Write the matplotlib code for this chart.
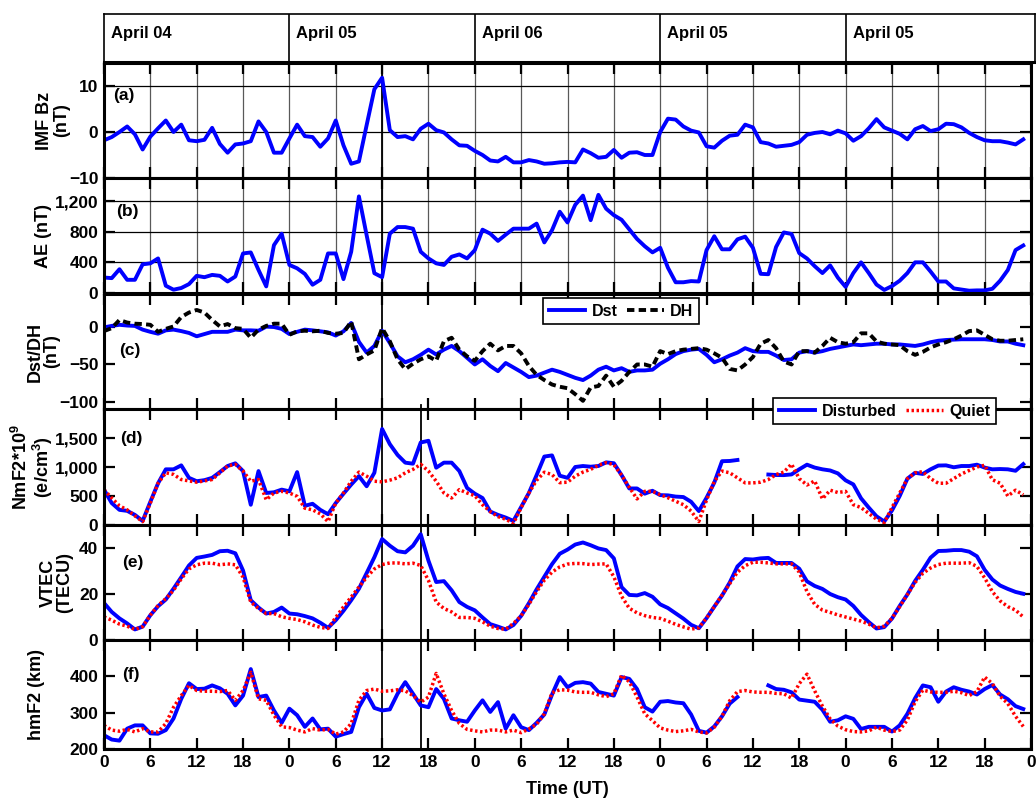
import numpy as np
import matplotlib
matplotlib.use('Agg')
import matplotlib.pyplot as plt
from matplotlib import font_manager as fm
from matplotlib.ticker import FuncFormatter

# ---- data (hourly, 0..119 UT hours from start of April 04) ----
hours = np.arange(120)
day_labels = ['April 04', 'April 05', 'April 06', 'April 05', 'April 05']
event_hours = [36, 41]

imf_bz = [-1.8, -1.1, 0.0, 1.2, -0.5, -3.8, -1.0, 0.8, 2.5, 0.0,
          1.6, -1.8, -2.0, -1.7, 0.9, -2.6, -4.5, -2.7, -2.5, -2.0,
          2.3, 0.0, -4.5, -4.5, -1.4, 1.6, -0.9, -1.1, -3.2, -1.4,
          2.5, -2.9, -6.9, -6.4, 1.5, 9.3, 11.8, 0.4, -1.1, -0.9,
          -1.6, 0.7, 1.8, 0.4, -0.1, -1.6, -2.9, -3.0, -4.1, -5.0,
          -6.2, -6.4, -5.4, -6.6, -6.6, -6.1, -6.4, -6.9, -6.8, -6.6,
          -6.5, -6.6, -3.8, -4.6, -5.6, -5.4, -3.9, -5.6, -4.5, -4.4,
          -5.0, -5.0, 0.0, 2.9, 2.7, 1.2, 0.3, -0.1, -3.1, -3.4,
          -1.9, -0.8, -0.6, 1.6, 1.0, -2.2, -2.5, -3.2, -3.0, -2.8,
          -2.2, -0.6, -0.2, 0.0, -0.5, 0.3, -0.3, -1.9, -0.9, 0.8,
          2.8, 1.0, 0.3, -0.4, -1.6, 0.6, 1.3, 0.2, 0.6, 1.8,
          1.7, 1.0, -0.2, -1.1, -1.8, -2.0, -2.0, -2.3, -2.7, -1.6]

ae = [202, 194, 310, 172, 172, 374, 387, 451, 95, 43,
      65, 116, 224, 206, 236, 224, 150, 215, 516, 529,
      301, 86, 624, 774, 366, 322, 249, 108, 172, 516,
      516, 181, 538, 1260, 753, 258, 206, 774, 860, 860,
      839, 538, 451, 387, 366, 473, 503, 451, 559, 826,
      774, 680, 761, 839, 839, 839, 905, 660, 820, 1060,
      920, 1150, 1270, 950, 1280, 1100, 1015, 955, 830, 705,
      610, 530, 590, 330, 140, 140, 155, 150, 560, 740,
      570, 570, 700, 735, 590, 250, 245, 600, 790, 770,
      520, 450, 350, 260, 360, 200, 80, 260, 400, 260,
      110, 40, 90, 160, 260, 400, 400, 280, 150, 150,
      60, 45, 30, 34, 34, 55, 160, 300, 560, 620]

dst = [0, 2, 3.5, 2.5, 2, -3, -6, -8.5, -4, -3,
       -5, -7.5, -12, -9, -6, -6, -6, -3, -4, -4,
       -4.5, 1, 0.5, -2, -9, -6, -3, -4, -5.3, -6.7,
       -11, -5.3, 6, -19.5, -34, -25, -4.5, -21, -39, -47,
       -43, -37, -30, -36.5, -30, -25, -32, -41, -50, -43,
       -52, -59, -48, -54, -60, -67, -65, -61, -57, -60,
       -64, -68, -71, -65, -57, -53, -58, -55, -60, -58,
       -58, -57, -49, -43, -36, -32, -30, -29, -37, -47,
       -43, -38, -34, -28, -32, -33, -33, -38, -44, -43,
       -34, -32, -34, -32, -29, -27, -25, -23, -24, -23,
       -22, -22, -23, -23, -24, -25, -23, -20, -18, -17,
       -16.5, -16, -16, -16, -16, -17, -19, -19, -22, -24]

dh = [-5, -1, 10, 6.5, 5, 4.5, 3.5, -6, -2, 1.3,
      14, 20, 23.5, 20, 10, 1.3, 4.5, -1, -2, -14,
      -3, 2, 5, 5, -10, -5.3, -4.5, -5.3, -4.5, -7.5,
      -8.5, -7.5, 8, -43, -36.5, -31, -1, -18.7, -43, -56.4,
      -49, -43, -39, -45, -18.7, -14, -30, -39, -45, -32,
      -22, -31, -25, -25, -35, -52, -64, -71, -77, -80,
      -82, -90, -99, -81, -79, -65, -80, -72, -60, -50,
      -50, -53, -32, -36, -32, -30, -29, -28, -30, -35,
      -41, -56, -58, -50, -40, -22, -17, -28, -46, -50,
      -32, -32, -34, -25, -14, -20, -22, -20, -8, -8,
      -19, -22, -23, -24, -32, -37, -33, -27, -23, -20,
      -16, -11, -5, -4, -10, -16, -18, -18, -17, -16]

nan = np.nan
nmf2_dist = [610, 378, 261, 244, 174, 70, 400, 720, 960, 960,
             1028, 813, 755, 773, 813, 912, 1017, 1063, 930, 349,
             930, 552, 564, 610, 581, 912, 331, 366, 261, 186,
             378, 540, 697, 842, 668, 901, 1656, 1394, 1208, 1075,
             1057, 1423, 1452, 988, 1075, 1075, 930, 639, 540, 465,
             232, 174, 128, 70, 310, 552, 860, 1180, 1200, 850,
             813, 1000, 1017, 1005, 1017, 1080, 1065, 860, 630, 630,
             540, 590, 515, 511, 490, 482, 400, 240, 470, 730,
             1100, 1104, 1121, nan, nan, nan, 870, 862, 860, 872,
             960, 1040, 990, 960, 940, 890, 770, 700, 460, 300,
             150, 60, 250, 500, 800, 900, 880, 960, 1025, 1028,
             995, 1017, 1017, 1040, 990, 960, 965, 960, 935, 1050]

nmf2_quiet = [610, 465, 331, 261, 157, 58, 380, 720, 900, 872,
              784, 760, 738, 760, 784, 900, 1017, 1046, 930, 755,
              784, 435, 552, 581, 552, 494, 290, 261, 192, 58,
              378, 552, 755, 912, 842, 755, 744, 773, 813, 900,
              959, 1046, 930, 755, 552, 465, 610, 552, 505, 349,
              232, 145, 99, 29, 300, 552, 770, 910, 870, 730,
              738, 842, 912, 959, 1030, 1075, 1040, 860, 650, 450,
              580, 581, 523, 470, 410, 350, 240, 60, 430, 750,
              930, 900, 813, 726, 726, 738, 784, 870, 912, 1050,
              800, 690, 760, 450, 600, 560, 580, 350, 300, 200,
              100, 40, 300, 550, 800, 900, 920, 800, 720, 720,
              800, 880, 940, 1000, 1030, 780, 720, 500, 600, 520]

vtec_dist = [16.1, 12.2, 9.4, 7.2, 4.6, 5.8, 10.8, 14.7, 17.6, 22.3,
             27.3, 32.4, 35.7, 36.3, 37.0, 38.6, 38.8, 37.7, 30.2, 17.3,
             14.1, 11.5, 12.2, 14.1, 11.5, 11.2, 10.4, 9.4, 7.5, 5.3,
             8.6, 12.7, 17.3, 22.3, 29.1, 36.0, 43.9, 41.0, 38.6, 38.1,
             41.0, 46.0, 34.5, 25.2, 25.6, 21.6, 16.5, 14.4, 12.9, 9.8,
             6.9, 5.8, 4.6, 6.5, 10.5, 16.0, 22.0, 27.5, 33.0, 37.5,
             39.3, 41.5, 42.4, 41.2, 39.8, 39.1, 35.5, 23.0, 19.6, 19.4,
             20.4, 18.8, 15.5, 13.9, 11.6, 9.3, 6.6, 5.1, 9.5, 14.5,
             19.3, 25.0, 32.0, 35.2, 35.0, 35.5, 35.7, 33.5, 33.5, 33.5,
             31.0, 25.5, 23.5, 22.2, 20.0, 18.6, 17.6, 14.8, 10.9, 7.8,
             5.0, 5.6, 9.3, 14.8, 19.8, 25.7, 30.5, 35.8, 38.7, 38.8,
             39.1, 39.1, 38.4, 36.4, 30.5, 26.3, 23.7, 22.2, 20.9, 20.1]

vtec_quiet = [10.1, 8.6, 6.9, 6.0, 4.6, 5.8, 10.8, 15.0, 18.0, 21.6,
              26.6, 30.9, 32.7, 33.4, 33.4, 32.7, 33.1, 32.7, 27.3, 16.5,
              13.7, 11.5, 11.5, 10.1, 9.4, 8.9, 7.9, 6.5, 5.5, 5.0,
              9.8, 14.4, 18.7, 23.0, 27.3, 30.9, 32.8, 33.5, 33.5, 33.1,
              33.4, 32.4, 25.9, 16.5, 13.7, 12.2, 9.8, 9.8, 9.4, 7.9,
              6.0, 5.0, 4.7, 7.2, 10.5, 15.5, 21.0, 26.0, 29.5, 31.8,
              33.0, 33.3, 33.2, 32.8, 33.0, 33.1, 27.5, 19.0, 13.8, 11.8,
              10.6, 9.8, 9.4, 8.2, 6.8, 5.7, 4.7, 5.3, 9.6, 14.5,
              19.5, 24.5, 29.5, 32.3, 33.8, 33.8, 33.5, 33.1, 33.1, 33.1,
              29.5, 21.0, 15.5, 13.0, 12.0, 10.9, 10.0, 9.1, 8.2, 6.9,
              5.3, 6.0, 9.4, 14.5, 19.8, 25.0, 29.0, 31.3, 32.8, 33.4,
              33.4, 33.4, 33.6, 32.0, 27.0, 21.0, 17.0, 14.5, 13.0, 10.0]

hmf2_dist = [238, 226, 223, 256, 265, 265, 243, 242, 252, 284,
             338, 381, 365, 366, 375, 367, 352, 320, 347, 420,
             343, 347, 306, 272, 311, 293, 261, 284, 254, 256,
             234, 241, 247, 315, 352, 313, 306, 309, 352, 384,
             352, 320, 315, 365, 338, 284, 279, 275, 306, 334,
             302, 329, 256, 293, 260, 252, 272, 295, 350, 398,
             370, 382, 384, 380, 357, 352, 347, 398, 393, 365,
             315, 303, 330, 332, 328, 326, 295, 250, 245, 262,
             290, 325, 343, nan, nan, nan, 375, 365, 363, 356,
             336, 333, 330, 308, 275, 279, 290, 283, 255, 261,
             261, 261, 248, 265, 297, 340, 375, 370, 330, 358,
             370, 363, 358, 350, 365, 376, 350, 337, 318, 310]

hmf2_quiet = [265, 252, 249, 254, 247, 256, 247, 247, 270, 315,
              347, 375, 361, 359, 359, 358, 361, 334, 361, 411,
              338, 334, 293, 261, 259, 252, 247, 256, 252, 254,
              241, 247, 270, 334, 361, 365, 359, 360, 363, 360,
              347, 329, 343, 408, 352, 306, 270, 254, 250, 247,
              252, 252, 247, 252, 245, 255, 268, 297, 355, 363,
              362, 357, 356, 356, 349, 344, 352, 403, 385, 343,
              297, 278, 258, 252, 248, 250, 254, 247, 244, 260,
              290, 333, 358, 361, 357, 356, 356, 353, 352, 340,
              380, 406, 360, 318, 283, 263, 253, 248, 247, 250,
              260, 252, 248, 252, 280, 330, 362, 357, 356, 356,
              359, 355, 347, 358, 398, 380, 345, 325, 290, 262]

# ---- fonts ----
names = {f.name for f in fm.fontManager.ttflist}
narrow = 'Liberation Sans Narrow' if 'Liberation Sans Narrow' in names else 'Liberation Sans'
plt.rcParams['font.family'] = [narrow, 'DejaVu Sans']
plt.rcParams['font.weight'] = 'bold'
plt.rcParams['axes.labelweight'] = 'bold'
plt.rcParams['mathtext.fontset'] = 'custom'
plt.rcParams['mathtext.rm'] = 'Liberation Sans:bold'
plt.rcParams['mathtext.bf'] = 'Liberation Sans:bold'
plt.rcParams['mathtext.default'] = 'bf'

W, H = 1036, 802
fig = plt.figure(figsize=(W / 100, H / 100), dpi=100)

x0, x1 = 104, 1031
tops = [63, 178, 294, 409, 525, 640]
bots = [178, 293, 409, 525, 640, 749]
axes = [fig.add_axes([x0 / W, 1 - b / H, (x1 - x0) / W, (b - t) / H]) for t, b in zip(tops, bots)]
ax_a, ax_b, ax_c, ax_d, ax_e, ax_f = axes

BLUE = '#0000FF'
RED = '#FF0000'
LW = 2.8
dotted = (0, (0.7, 0.75))
comma = FuncFormatter(lambda v, p: f'{v:,.0f}')

ax_a.plot(hours, imf_bz, color=BLUE, lw=LW)
ax_b.plot(hours, ae, color=BLUE, lw=LW)
ax_c.plot(hours, dst, color=BLUE, lw=LW, label='Dst')
ax_c.plot(hours, dh, color='k', lw=LW, ls=(0, (1.9, 1.1)), label='DH')
ax_d.plot(hours, nmf2_dist, color=BLUE, lw=LW, label='Disturbed')
ax_d.plot(hours, nmf2_quiet, color=RED, lw=2.5, ls=dotted, label='Quiet')
ax_e.plot(hours, vtec_dist, color=BLUE, lw=LW)
ax_e.plot(hours, vtec_quiet, color=RED, lw=2.5, ls=dotted)
ax_f.plot(hours, hmf2_dist, color=BLUE, lw=LW)
ax_f.plot(hours, hmf2_quiet, color=RED, lw=2.5, ls=dotted)

ylims = [(-10, 15), (0, 1500), (-110, 45), (0, 2000), (0, 50), (200, 500)]
yticks = [[-10, 0, 10], [0, 400, 800, 1200], [-100, -50, 0],
          [0, 500, 1000, 1500], [0, 20, 40], [200, 300, 400]]
ylabels = ['IMF Bz\n(nT)', 'AE (nT)', 'Dst/DH\n(nT)',
           'NmF2*10$^9$\n(e/cm$^3$)', 'VTEC\n(TECU)', 'hmF2 (km)']
label_x = [-0.037, -0.056, -0.047, -0.053, -0.033, -0.064]
tags = ['(a)', '(b)', '(c)', '(d)', '(e)', '(f)']
tag_pos = [(0.010, 0.72), (0.013, 0.71), (0.016, 0.51), (0.017, 0.75), (0.020, 0.67), (0.020, 0.68)]

for i, ax in enumerate(axes):
    ax.set_xlim(0, 120)
    ax.set_ylim(*ylims[i])
    ax.set_xticks(np.arange(0, 121, 6))
    ax.set_yticks(yticks[i])
    ax.tick_params(direction='in', length=8, width=1.6, top=True, right=True,
                   labelsize=12.5, pad=4)
    if i < 5:
        ax.tick_params(labelbottom=False)
    if i in (1, 3):
        ax.yaxis.set_major_formatter(comma)
    for s in ax.spines.values():
        s.set_linewidth(2.2)
    ax.set_ylabel(ylabels[i], fontsize=13, family=['Liberation Sans', 'DejaVu Sans'],
                  linespacing=1.0)
    ax.yaxis.set_label_coords(label_x[i], 0.5)
    ax.text(tag_pos[i][0], tag_pos[i][1], tags[i], transform=ax.transAxes,
            fontsize=12.5, va='center', ha='left')
    ax.axvline(event_hours[0], color='k', lw=1.3, zorder=1)

for ax in (ax_a, ax_b):
    ax.grid(True, axis='x', color='0.35', lw=0.9)
    ax.grid(True, axis='y', color='k', lw=0.9)
    ax.set_axisbelow(True)

ax_d.axvline(event_hours[1], ymax=1.035, clip_on=False, color='k', lw=1.3, zorder=1)
ax_e.axvline(event_hours[1], color='k', lw=1.3, zorder=1)
ax_f.axvline(event_hours[1], color='k', lw=1.3, zorder=1)

ax_f.set_xticklabels(['0', '6', '12', '18'] * 5 + ['0'])
ax_f.set_xlabel('Time (UT)', fontsize=13, labelpad=8)

leg_kw = dict(ncol=2, loc='upper left', frameon=True, fancybox=False, framealpha=1,
              edgecolor='k', fontsize=11.5, handlelength=2.3, columnspacing=0.6,
              handletextpad=0.4, borderpad=0.35, borderaxespad=0)
leg = ax_c.legend(bbox_to_anchor=((543 - x0) / (x1 - x0), (409 - 298) / 115), **leg_kw)
leg.get_frame().set_linewidth(1.2)
leg = ax_d.legend(bbox_to_anchor=((773 - x0) / (x1 - x0), (525 - 398) / 116), **leg_kw)
leg.get_frame().set_linewidth(1.2)

# ---- header strip with day names ----
ax_h = fig.add_axes([x0 / W, 1 - 62 / H, (1035 - x0) / W, 48 / H])
ax_h.set_xlim(0, 120 * (1035 - x0) / (x1 - x0))
ax_h.set_ylim(0, 1)
ax_h.set_xticks([])
ax_h.set_yticks([])
for k, s in ax_h.spines.items():
    s.set_linewidth(2.2 if k == 'bottom' else 1.2)
for i, name in enumerate(day_labels):
    if i > 0:
        ax_h.axvline(24 * i, color='k', lw=1.2)
    ax_h.text(24 * i + 0.9, 0.6, name, fontsize=12, va='center', ha='left')

fig.savefig('out.png', dpi=100)
